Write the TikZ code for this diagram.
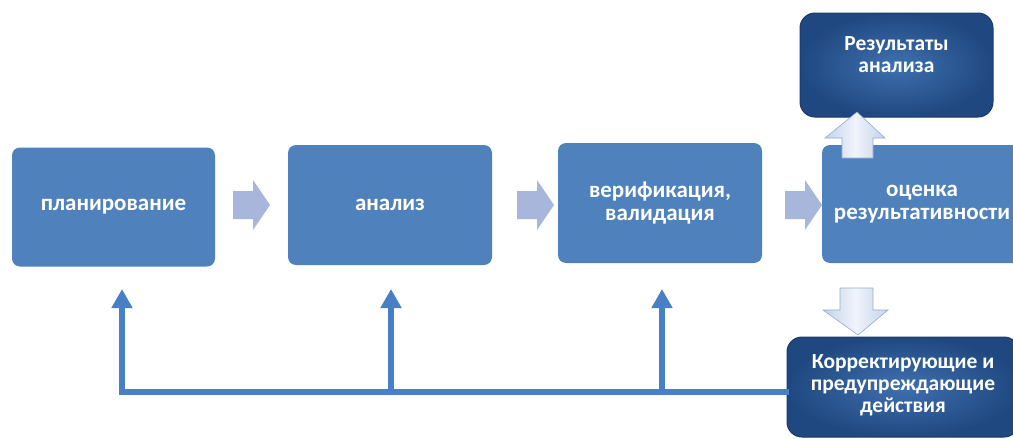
\documentclass[tikz,border=0pt]{standalone}
\usepackage{fontspec}
\setmainfont{Carlito}
\usetikzlibrary{arrows.meta,calc}
\definecolor{boxblue}{RGB}{79,129,189}
\definecolor{darkin}{RGB}{62,112,175}
\definecolor{darkout}{RGB}{32,72,128}
\definecolor{darkedge}{RGB}{28,58,104}
\definecolor{chev}{RGB}{168,182,220}
\definecolor{fbblue}{RGB}{72,128,198}
\definecolor{blkA}{RGB}{196,210,232}
\definecolor{blkB}{RGB}{240,244,251}
\definecolor{blkEdge}{RGB}{150,172,205}
\tikzset{
  mainbox/.style={rectangle, rounded corners=8pt, fill=boxblue, draw=none,
    text=white, font=\fontsize{23}{23}\selectfont\bfseries, align=center,
    inner sep=0pt},
  darkbox/.style={rectangle, rounded corners=15pt, inner color=darkin, outer color=darkout,
    draw=darkedge, line width=1pt, inner sep=0pt},
  darktext/.style={text=white, font=\fontsize{21.5}{22}\selectfont\bfseries, align=center,
    inner sep=0pt},
  chevron/.style={fill=chev, draw=none},
  blockarrow/.style={left color=blkA, right color=blkA, middle color=blkB, draw=blkEdge, line width=0.6pt},
  fb/.style={draw=fbblue, line width=5.5pt},
  fbarrow/.style={fb, -{Triangle[width=20pt,length=19pt]}}
}
\begin{document}
\begin{tikzpicture}[x=1pt,y=-1pt]
\useasboundingbox (0,0) rectangle (1013,439);
\fill[white] (0,0) rectangle (1013,439);
\clip (0,0) rectangle (1013,439);

% main process boxes
\node[mainbox, minimum width=203pt, minimum height=119pt] (plan) at (113.5,207) {планирование};
\node[mainbox, minimum width=204pt, minimum height=120pt] (anal) at (390,205) {анализ};
\node[mainbox, minimum width=204pt, minimum height=120pt] (verif) at (660,203) {верификация,\\валидация};
\node[mainbox, minimum width=200pt, minimum height=118pt] (eval) at (922,204) {оценка\\результативности};

% dark boxes
\node[darkbox, minimum width=193pt, minimum height=104pt] (res) at (896.5,65) {};
\node[darktext] (restext) at (896.5,55) {Результаты\\анализа};
\node[darkbox, minimum width=232pt, minimum height=100pt] (corr) at (903,387) {};
\node[darktext] (corrtext) at (903,385) {Корректирующие и\\предупреждающие\\действия};

% chevrons between boxes
\foreach \x in {233,517,785}{
  \fill[chevron] (\x,191) -- ++(20,0) -- ++(0,-11) -- ++(17,25) -- ++(-17,25) -- ++(0,-11) -- ++(-20,0) -- cycle;
}

% up block arrow (eval -> results)
\path[blockarrow] (842,158) -- (842,138) -- (825,138) -- (857,112) -- (885,138) -- (873,138) -- (873,158) -- cycle;
% down block arrow (eval -> corrective)
\path[blockarrow] (840,288) -- (873,288) -- (873,310) -- (888,310) -- (858,335) -- (823,310) -- (840,310) -- cycle;

% feedback lines
\coordinate (f1) at (122,392);
\coordinate (f2) at (391,392);
\coordinate (f3) at (662,392);
\coordinate (ce) at (corr.west |- f1);
\draw[fb, line cap=rect] (ce) -- (f1);
\draw[fbarrow] (f1) -- (f1 |- 0,289);
\draw[fbarrow] (f2) -- (f2 |- 0,289);
\draw[fbarrow] (f3) -- (f3 |- 0,289);
\end{tikzpicture}
\end{document}
